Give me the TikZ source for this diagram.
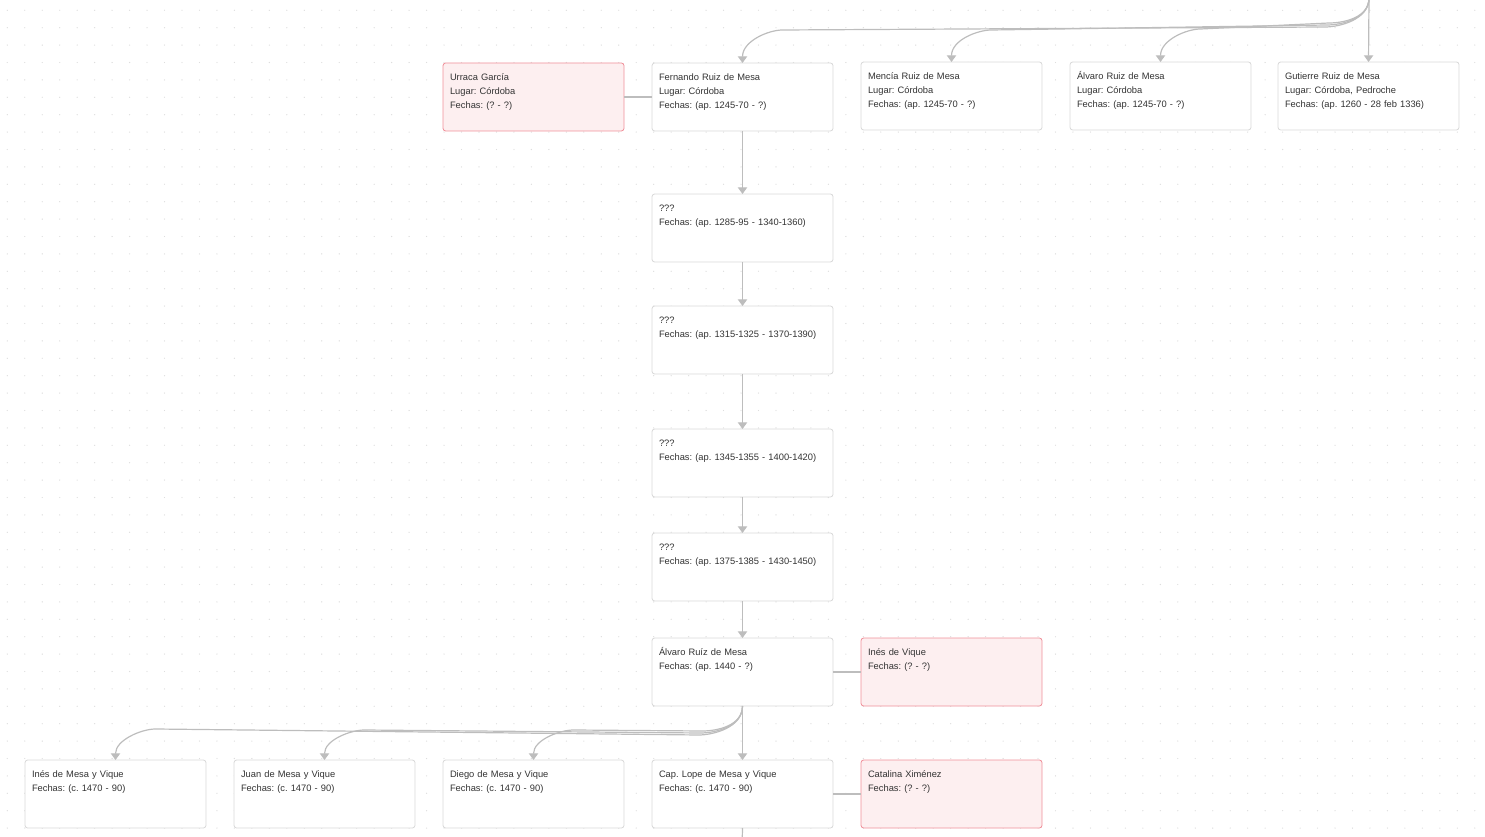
\documentclass[tikz,border=0pt]{standalone}
\usepackage{fontspec}
\setmainfont{Liberation Sans}
\usepackage{xcolor}
\usetikzlibrary{arrows.meta,calc}
\frenchspacing

\definecolor{cardline}{HTML}{D9D9D9}
\definecolor{pinkfill}{HTML}{FDEFF0}
\definecolor{pinkline}{HTML}{F0909A}
\definecolor{linkgray}{HTML}{BDBDBD}
\definecolor{dotgray}{HTML}{DEDEDE}
\definecolor{txt}{HTML}{333333}

\begin{document}
\begin{tikzpicture}[x=0.75pt, y=-0.75pt,
    every node/.style={font=\fontsize{7}{10.5}\selectfont, text=txt},
    person/.style={draw=cardline, fill=white, line width=0.6pt, rounded corners=2pt,
      anchor=north west, align=left, text width=125.25pt, inner xsep=5.25pt,
      inner ysep=5pt, text height=8.3pt, text depth=32.7pt, outer sep=0pt},
    spouse/.style={person, draw=pinkline, fill=pinkfill},
    link/.style={draw=linkgray, line width=0.9pt, -{Triangle[width=7pt, length=5pt]}},
    tie/.style={draw=linkgray, line width=0.9pt}]
  \useasboundingbox (0,0) rectangle (1485,837);
  \clip (0,0) rectangle (1485,837);
  % dotted grid
  \foreach \i in {0,...,84}
    \foreach \j in {0,...,47}
      \fill[dotgray] (7.3+17.47*\i, 10.3+17.4*\j) circle[radius=0.5pt];

  % top row
  \coordinate (topparent) at (1369,-2);
  \node[spouse] (urraca) at (443,63) {Urraca García\\Lugar: Córdoba\\Fechas: (? - ?)};
  \node[person] (fernando) at (652,63) {Fernando Ruiz de Mesa\\Lugar: Córdoba\\Fechas: (ap. 1245-70 - ?)};
  \node[person] (mencia) at (861,62) {Mencía Ruiz de Mesa\\Lugar: Córdoba\\Fechas: (ap. 1245-70 - ?)};
  \node[person] (alvaroA) at (1070,62) {Álvaro Ruiz de Mesa\\Lugar: Córdoba\\Fechas: (ap. 1245-70 - ?)};
  \node[person] (gutierre) at (1278,62) {Gutierre Ruiz de Mesa\\Lugar: Córdoba, Pedroche\\Fechas: (ap. 1260 - 28 feb 1336)};

  % line of descent
  \node[person] (gen1) at (652,194) {???\\Fechas: (ap. 1285-95 - 1340-1360)};
  \node[person] (gen2) at (652,306) {???\\Fechas: (ap. 1315-1325 - 1370-1390)};
  \node[person] (gen3) at (652,429) {???\\Fechas: (ap. 1345-1355 - 1400-1420)};
  \node[person] (gen4) at (652,533) {???\\Fechas: (ap. 1375-1385 - 1430-1450)};
  \node[person] (alvaroB) at (652,638) {Álvaro Ruíz de Mesa\\Fechas: (ap. 1440 - ?)};
  \node[spouse] (inesV) at (861,638) {Inés de Vique\\Fechas: (? - ?)};

  % bottom row
  \node[person] (inesM) at (25,760) {Inés de Mesa y Vique\\Fechas: (c. 1470 - 90)};
  \node[person] (juan) at (234,760) {Juan de Mesa y Vique\\Fechas: (c. 1470 - 90)};
  \node[person] (diego) at (443,760) {Diego de Mesa y Vique\\Fechas: (c. 1470 - 90)};
  \node[person] (lope) at (652,760) {Cap. Lope de Mesa y Vique\\Fechas: (c. 1470 - 90)};
  \node[spouse] (catalina) at (861,760) {Catalina Ximénez\\Fechas: (? - ?)};
  \coordinate (lopechild) at (742,850);

  % couples
  \draw[tie] (urraca.east) -- (fernando.west);
  \draw[tie] (alvaroB.east) -- (inesV.west);
  \draw[tie] (lope.east) -- (catalina.west);

  % children of the top parent
  \draw[link] (topparent) -- (gutierre.north);
  \draw[link] (topparent) .. controls +(0,20) and +(14,0) .. ++(-40,25)
    -- ($(alvaroA.north)+(40,-33)$) .. controls +(-14,0) and +(0,-22) .. (alvaroA.north);
  \draw[link] (topparent) .. controls +(0,21) and +(14,0) .. ++(-42,27)
    -- ($(mencia.north)+(40,-32)$) .. controls +(-14,0) and +(0,-22) .. (mencia.north);
  \draw[link] (topparent) .. controls +(0,22) and +(14,0) .. ++(-44,29)
    -- ($(fernando.north)+(40,-33)$) .. controls +(-14,0) and +(0,-22) .. (fernando.north);

  % descent
  \draw[link] (fernando.south) -- (gen1.north);
  \draw[link] (gen1.south) -- (gen2.north);
  \draw[link] (gen2.south) -- (gen3.north);
  \draw[link] (gen3.south) -- (gen4.north);
  \draw[link] (gen4.south) -- (alvaroB.north);

  % children of Alvaro
  \draw[link] (alvaroB.south) -- (lope.north);
  \draw[link] (alvaroB.south) .. controls +(0,20) and +(14,0) .. ++(-40,25)
    -- ($(diego.north)+(40,-30)$) .. controls +(-14,0) and +(0,-20) .. (diego.north);
  \draw[link] (alvaroB.south) .. controls +(0,21) and +(14,0) .. ++(-42,27)
    -- ($(juan.north)+(40,-30)$) .. controls +(-14,0) and +(0,-20) .. (juan.north);
  \draw[link] (alvaroB.south) .. controls +(0,22) and +(14,0) .. ++(-44,29)
    -- ($(inesM.north)+(40,-31)$) .. controls +(-14,0) and +(0,-20) .. (inesM.north);
  \draw[tie] (lope.south) -- (lopechild);
\end{tikzpicture}
\end{document}
